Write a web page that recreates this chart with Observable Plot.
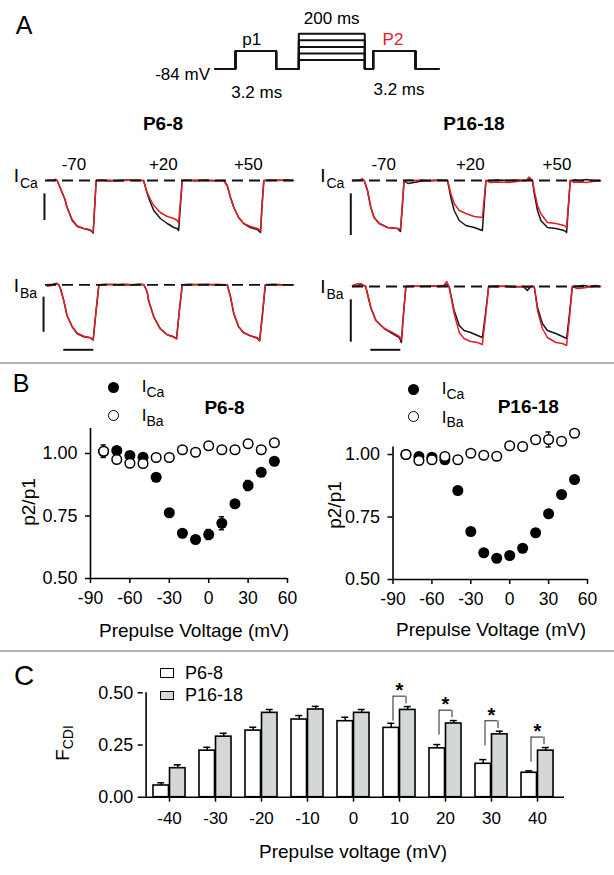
<!DOCTYPE html>
<html><head><meta charset="utf-8">
<script src="https://cdn.jsdelivr.net/npm/d3@7"></script>
<script src="https://cdn.jsdelivr.net/npm/@observablehq/plot@0.6"></script>
<style>
html,body{margin:0;padding:0;background:#fff;}
#fig{position:relative;width:614px;height:875px;overflow:hidden;font-family:"Liberation Sans",Arial,sans-serif;color:#000;background:#fff;}
#fig svg{position:absolute;left:0;top:0;background:transparent !important;overflow:visible;}
.lab{position:absolute;white-space:nowrap;line-height:1;}
</style></head><body><div id="fig"></div>
<script>
// ================= DATA =================
// Panel A – voltage protocol (schematic time units, mV)
const protoTimes = [0, 2.0, 6.07, 8.33, 14.93, 15.77, 20.0, 22.3];
const holdingMv = -84;
const testMv = -15;
const prepulseMv = [-50, -25, 0, 25, 50];

// Panel A – current traces: [time (ms), p1 (black), p2 (red)], current in arbitrary units
const sweepLabels = ["-70", "+20", "+50"];
const tracesP6Ca = [[0.7,0,0.05],[2.5,0.05,0],[3.3,0.1,0.1],[3.9,0,0],[5.0,-0.8,-0.8],[6.5,-1.9,-1.9],[7.2,-2.7,-2.7],[8.9,-4.0,-3.9],[10.6,-4.6,-4.55],[12.8,-4.8,-4.8],[14.0,-4.9,-4.85],[15.0,-5.0,-4.95],[15.9,-5.25,-5.15],[16.4,-2.6,-2.6],[16.9,0,0],[18.5,0.05,0],[21,-0.05,0.05],[24,0,-0.05],[27,0.05,0],[30,0,0.05],[32.7,0,0],[33.9,-1.3,-1.2],[35.0,-2.2,-1.9],[36.1,-3.0,-2.5],[38.3,-3.8,-3.2],[40.6,-4.3,-3.6],[42.8,-4.7,-3.8],[43.9,-4.8,-4.0],[44.4,-5.0,-4.2],[45.0,-2.5,-2.1],[45.6,0,0],[47,0.05,0],[50,-0.05,0.05],[53,0.05,0],[56,0,-0.05],[59.4,0,0],[60.6,-0.5,-0.5],[61.7,-1.7,-1.7],[62.8,-2.7,-2.7],[64.4,-3.7,-3.7],[66.1,-4.3,-4.3],[68.3,-4.7,-4.6],[70.6,-4.9,-4.8],[71.7,-5.2,-5.0],[72.2,-2.6,-2.5],[72.8,0,0],[75,0.05,0],[78,0,0.05],[80.5,0.05,0],[82.7,0,0]];
const tracesP6Ba = [[0.6,0,-0.15],[2.5,0.05,-0.05],[3.8,0.15,0.1],[4.4,0,0],[5.0,-0.4,-0.4],[6.1,-1.6,-1.6],[7.2,-3.1,-3.1],[8.9,-4.2,-4.2],[10.6,-4.9,-4.85],[12.8,-5.2,-5.15],[15.0,-5.3,-5.3],[15.9,-5.5,-5.55],[16.8,-2.8,-2.8],[17.8,0,0],[20,0.05,0],[23,0,0.05],[26,0.05,-0.05],[29,0,0],[31.5,0.05,0.05],[32.8,0,0],[33.9,-0.7,-0.7],[34.4,-1.6,-1.6],[36.1,-3.2,-3.2],[38.3,-4.4,-4.4],[40.6,-5.0,-5.0],[42.8,-5.2,-5.25],[43.7,-5.4,-5.4],[44.6,-2.7,-2.7],[45.6,0,0],[48,0.05,-0.05],[51,0,0.05],[54,0.05,0],[57,-0.05,0.05],[60.6,0,0],[61.7,-1.2,-1.2],[62.8,-2.9,-2.9],[64.4,-4.2,-4.2],[66.1,-4.8,-4.8],[68.3,-5.1,-5.1],[70.6,-5.3,-5.35],[71.4,-5.6,-5.6],[72.4,-2.8,-2.8],[73.3,0,0],[76,0.05,0],[79,0,-0.05],[82.7,0,0]];
const tracesP16Ca = [[0,0,0],[2.5,0.05,0],[3.3,0.15,0.15],[3.9,0,0],[5.0,-1.0,-1.0],[6.1,-2.7,-2.7],[7.2,-3.7,-3.7],[8.9,-4.3,-4.3],[11.7,-4.7,-4.7],[15.0,-4.8,-4.8],[16.0,-5.1,-4.85],[16.6,-2.6,-2.5],[17.2,0,0],[18.5,-0.3,0.05],[20.5,-0.2,0],[23,-0.05,0.05],[26,0,-0.05],[29,0.05,0],[31.7,0,0],[32.8,-1.7,-1.3],[33.9,-3.0,-2.3],[35.6,-4.0,-3.0],[37.8,-4.5,-3.3],[40.6,-4.7,-3.6],[43.3,-5.0,-3.7],[43.9,-2.5,-1.9],[44.5,0,0],[46,0,-0.2],[49,0.05,-0.15],[52,0,-0.2],[55,0.05,-0.1],[58,0,0],[58.9,0.1,0.35],[60,0,0],[60.6,-1.3,-1.0],[61.7,-3.0,-2.5],[62.8,-4.0,-3.3],[65.0,-4.7,-4.2],[67.8,-4.8,-4.3],[70.6,-5.0,-4.5],[71.4,-5.2,-4.7],[72.0,-2.6,-2.4],[72.6,0,0],[74,0.05,-0.2],[76,0,-0.15],[78,0.1,-0.2],[80,0,-0.1],[82.7,0,-0.05]];
const tracesP16Ba = [[0,0,0.1],[1.5,0.05,0.25],[2.8,0.2,0.3],[3.8,0.1,0.1],[4.4,0,0],[6.1,-2.1,-2.1],[7.8,-3.4,-3.4],[10.6,-4.2,-4.2],[13.3,-4.7,-4.6],[15.6,-5.1,-5.0],[16.3,-5.6,-5.3],[17.0,-2.8,-2.7],[17.8,0,0],[20,0.05,0],[23,0,0.05],[26,0.05,0],[29,0,0.1],[30.5,0.1,0.1],[31.4,0.2,0.5],[32.2,0,0],[33.9,-2.4,-2.7],[35.6,-3.9,-4.6],[37.2,-4.4,-5.2],[39.4,-4.6,-5.5],[41.7,-4.9,-5.6],[43.3,-5.1,-5.8],[44.4,-2.6,-2.9],[45.4,0,0],[48,0.05,-0.05],[51,0,0.05],[54,-0.05,0],[57,0,0],[58.3,-0.4,-0.1],[59.5,0,0],[60.6,0,0],[61.7,-2.1,-2.4],[63.3,-3.7,-4.2],[65.0,-4.4,-5.1],[67.8,-4.7,-5.6],[70.0,-5.0,-5.7],[71.4,-5.2,-5.9],[72.4,-2.6,-3.0],[73.3,0,0],[75,0.05,-0.2],[77,0.1,-0.15],[79,0,-0.05],[81,0.1,0],[82.7,0,0]];
// scale bars (ms, current units)
const scaleMs = 10;
const barP6Ca = {t: -0.35, i1: -1.33, i2: -4.0};
const barP6Ba = {t: -0.65, i1: -1.24, i2: -4.74, h: -6.5, t1: 6.1};
const barP16Ca = {t: -0.57, i1: -1.33, i2: -5.5};
const barP16Ba = {t: -0.57, i1: -1.33, i2: -5.57, h: -6.33, t1: 6.1};

// Panel B – p2/p1 vs prepulse voltage
const prepulseV = [-80,-70,-60,-50,-40,-30,-20,-10,0,10,20,30,40,50];
const p6Ca    = [1.008,1.012,0.992,0.985,0.905,0.763,0.681,0.656,0.676,0.721,0.799,0.872,0.925,0.969];
const p6CaSem = [0.012,0.010,0.010,0.010,0.010,0.010,0.012,0.012,0.020,0.026,0.015,0.020,0.012,0.010];
const p6Ba    = [1.009,0.976,0.961,0.960,0.984,0.984,1.015,1.005,1.031,1.015,1.015,1.039,1.015,1.043];
const p6BaSem = [0.025,0.010,0.010,0.010,0.008,0.008,0.010,0.008,0.010,0.010,0.010,0.012,0.010,0.010];
const p16Ca    = [1.000,0.992,0.989,0.979,0.856,0.692,0.607,0.585,0.596,0.625,0.687,0.763,0.840,0.900];
const p16CaSem = [0.008,0.008,0.008,0.008,0.010,0.010,0.010,0.010,0.010,0.012,0.010,0.010,0.010,0.010];
const p16Ba    = [1.000,0.976,0.979,0.992,0.979,1.005,0.997,0.993,1.035,1.032,1.059,1.060,1.053,1.085];
const p16BaSem = [0.008,0.008,0.008,0.010,0.008,0.008,0.008,0.008,0.010,0.010,0.012,0.030,0.012,0.010];
const bXTicks = [-90,-60,-30,0,30,60];
const bYTicks = [0.5,0.75,1.0];

// Panel C – F_CDI
const cdiV = ["-40","-30","-20","-10","0","10","20","30","40"];
const fcdiP6     = [0.056,0.223,0.319,0.372,0.364,0.332,0.234,0.160,0.117];
const fcdiP6Sem  = [0.013,0.016,0.016,0.019,0.019,0.022,0.018,0.020,0.009];
const fcdiP16    = [0.139,0.290,0.404,0.420,0.404,0.418,0.353,0.301,0.223];
const fcdiP16Sem = [0.016,0.016,0.016,0.015,0.016,0.016,0.014,0.015,0.015];
const sigV = ["10","20","30","40"];
const cYTicks = [0, 0.25, 0.5];

// ================= DRAW =================
const RED = "#e41e26";
const FONT = '"Liberation Sans", Arial, sans-serif';
const fig = document.getElementById("fig");
const W = 614, H = 875;
const baseStyle = {background: "transparent", overflow: "visible", fontFamily: FONT, fontSize: "17px", color: "#000"};
const hyphen = d => String(d);   // plain hyphen-minus, as in the original

function add(svg){ fig.appendChild(svg); }
function label(html, x, y, o = {}) {
  const d = document.createElement("div");
  d.className = "lab";
  d.innerHTML = html;
  const ax = o.anchor === "start" ? "0" : o.anchor === "end" ? "-100%" : "-50%";
  d.style.left = x + "px"; d.style.top = y + "px";
  d.style.fontSize = (o.size || 17) + "px";
  if (o.weight) d.style.fontWeight = o.weight;
  if (o.color) d.style.color = o.color;
  d.style.transform = `translate(${ax},-50%)` + (o.rotate ? ` rotate(${o.rotate}deg)` : "");
  fig.appendChild(d);
  return d;
}
function box(x, y, w, h, css) {
  const d = document.createElement("div");
  d.style.position = "absolute"; d.style.left = x + "px"; d.style.top = y + "px";
  d.style.width = w + "px"; d.style.height = h + "px"; d.style.boxSizing = "border-box";
  Object.assign(d.style, css);
  fig.appendChild(d);
}

// ---- Protocol schematic ----
const protoRows = prepulseMv.flatMap(L => {
  const lv = [holdingMv, testMv, holdingMv, L, holdingMv, testMv, holdingMv, holdingMv];
  return protoTimes.map((t, i) => ({t, v: lv[i], L}));
});
add(Plot.plot({
  width: W, height: H, marginLeft: 215, marginRight: W - 438, marginTop: 33.3, marginBottom: H - 68.5,
  style: baseStyle,
  x: {domain: [protoTimes[0], protoTimes[protoTimes.length - 1]], axis: null},
  y: {domain: [holdingMv, d3.max(prepulseMv)], axis: null},
  marks: [Plot.line(protoRows, {x: "t", y: "v", z: "L", curve: "step-after", stroke: "#111", strokeWidth: 2, strokeLinejoin: "miter"})]
}));

// ---- Current traces ----
function tracePlot(rows, x0, x1, base, bar) {
  const lo = -7, hi = 1, pxPerUnit = 10;
  const xDom = [0, 82.7];
  const marks = [
    Plot.line(rows, {x: d => d[0], y: d => d[1], stroke: "#151515", strokeWidth: 1.5}),
    Plot.line(rows, {x: d => d[0], y: d => d[2], stroke: RED, strokeWidth: 1.5}),
    Plot.ruleY([0], {x1: xDom[0], x2: xDom[1], stroke: "#111", strokeWidth: 1.8, strokeDasharray: "11,6"}),
    Plot.ruleX([bar], {x: "t", y1: "i1", y2: "i2", stroke: "#111", strokeWidth: 2})
  ];
  if (bar.h !== undefined) marks.push(Plot.ruleY([bar], {y: "h", x1: "t1", x2: d => d.t1 + scaleMs, stroke: "#111", strokeWidth: 2}));
  return Plot.plot({
    width: W, height: H, marginLeft: x0, marginRight: W - x1,
    marginTop: base - hi * pxPerUnit, marginBottom: H - (base - lo * pxPerUnit),
    style: baseStyle,
    x: {domain: xDom, axis: null}, y: {domain: [lo, hi], axis: null},
    marks
  });
}
add(tracePlot(tracesP6Ca, 45, 293, 180, barP6Ca));
add(tracePlot(tracesP6Ba, 45, 293, 284.3, barP6Ba));
add(tracePlot(tracesP16Ca, 352, 600, 180, barP16Ca));
add(tracePlot(tracesP16Ba, 352, 600, 286, barP16Ba));

// ---- Panel B ----
function ratioPlot(ml, mr, mt, mb, yTop, ca, caSem, ba, baSem) {
  const caRows = prepulseV.map((v, i) => ({v, r: ca[i], e: caSem[i]}));
  const baRows = prepulseV.map((v, i) => ({v, r: ba[i], e: baSem[i]}));
  const errMarks = rows => [
    Plot.ruleX(rows, {x: "v", y1: d => d.r - d.e, y2: d => d.r + d.e, stroke: "#000", strokeWidth: 1.4}),
    Plot.ruleY(rows, {y: d => d.r + d.e, x1: d => d.v - 2, x2: d => d.v + 2, stroke: "#000", strokeWidth: 1.4}),
    Plot.ruleY(rows, {y: d => d.r - d.e, x1: d => d.v - 2, x2: d => d.v + 2, stroke: "#000", strokeWidth: 1.4})
  ];
  return Plot.plot({
    width: W, height: H, marginLeft: ml, marginRight: mr, marginTop: mt, marginBottom: mb,
    style: baseStyle,
    x: {domain: [bXTicks[0], bXTicks[bXTicks.length - 1]], label: null},
    y: {domain: [bYTicks[0], yTop], label: null},
    marks: [
      Plot.axisX({ticks: bXTicks, tickFormat: hyphen, tickSize: 5, tickPadding: 8, fontSize: 17.5, strokeWidth: 1.5, label: null}),
      Plot.axisY({ticks: bYTicks, tickFormat: d3.format(".2f"), tickSize: 5, tickPadding: 8, fontSize: 18, strokeWidth: 1.5, label: null}),
      Plot.ruleY([bYTicks[0]], {x1: bXTicks[0], x2: bXTicks[bXTicks.length - 1], stroke: "#000", strokeWidth: 1.6}),
      Plot.ruleX([bXTicks[0]], {y1: bYTicks[0], y2: yTop, stroke: "#000", strokeWidth: 1.6}),
      ...errMarks(caRows),
      ...errMarks(baRows),
      Plot.dot(caRows, {x: "v", y: "r", r: 5.5, fill: "#000", stroke: "none"}),
      Plot.dot(baRows, {x: "v", y: "r", r: 4.8, fill: "#fff", stroke: "#000", strokeWidth: 1.5})
    ]
  });
}
add(ratioPlot(90, W - 287, 428, H - 578, 1.1, p6Ca, p6CaSem, p6Ba, p6BaSem));
add(ratioPlot(392.5, W - 587, 446.5, H - 579, 1.03, p16Ca, p16CaSem, p16Ba, p16BaSem));

// ---- Panel C ----
const cLeft = 142.7, cRight = 564, pIn = 0.295;
const step = (cRight - cLeft) / cdiV.length;
const bw = step * (1 - pIn);
const cRows = cdiV.map((c, i) => ({c, a: fcdiP6[i], ae: fcdiP6Sem[i], b: fcdiP16[i], be: fcdiP16Sem[i]}));
const sigRows = cRows.filter(d => sigV.includes(d.c)).map(d => {
  const top = d.b + d.be + 0.05;
  return {c: d.c, top, left: top - 0.12, right: top - 0.037, star: top + 0.05};
});
const capInset = (bw - 8) / 2;
const brInset = (bw - 13) / 2;
add(Plot.plot({
  width: W, height: H, marginLeft: cLeft, marginRight: W - cRight, marginTop: 692.3, marginBottom: H - 796.7,
  style: baseStyle,
  x: {type: "band", domain: cdiV, paddingInner: pIn, paddingOuter: pIn / 2, label: null},
  y: {domain: [cYTicks[0], cYTicks[cYTicks.length - 1]], label: null},
  marks: [
    Plot.axisX({tickSize: 5, tickPadding: 10, fontSize: 17, strokeWidth: 1.5, label: null}),
    Plot.axisY({ticks: cYTicks, tickFormat: d3.format(".2f"), tickSize: 5, tickPadding: 5, fontSize: 18, strokeWidth: 1.5, label: null}),
    // error bars (upward only)
    Plot.ruleX(cRows, {x: "c", y1: "a", y2: d => d.a + d.ae, dx: -bw / 4, stroke: "#000", strokeWidth: 1.5}),
    Plot.tickY(cRows, {x: "c", y: d => d.a + d.ae, dx: -bw / 4, insetLeft: capInset, insetRight: capInset, stroke: "#000", strokeWidth: 1.5}),
    Plot.ruleX(cRows, {x: "c", y1: "b", y2: d => d.b + d.be, dx: bw / 4, stroke: "#000", strokeWidth: 1.5}),
    Plot.tickY(cRows, {x: "c", y: d => d.b + d.be, dx: bw / 4, insetLeft: capInset, insetRight: capInset, stroke: "#000", strokeWidth: 1.5}),
    Plot.barY(cRows, {x: "c", y: "a", fill: "#fff", stroke: "#000", strokeWidth: 1.6, insetRight: bw / 2}),
    Plot.barY(cRows, {x: "c", y: "b", fill: "#d3d7d5", stroke: "#000", strokeWidth: 1.6, insetLeft: bw / 2}),
    // significance brackets
    Plot.ruleX(sigRows, {x: "c", y1: "left", y2: "top", dx: -6.5, stroke: "#222", strokeWidth: 1}),
    Plot.ruleX(sigRows, {x: "c", y1: "right", y2: "top", dx: 6.5, stroke: "#222", strokeWidth: 1}),
    Plot.tickY(sigRows, {x: "c", y: "top", insetLeft: brInset, insetRight: brInset, stroke: "#222", strokeWidth: 1}),
    Plot.text(sigRows, {x: "c", y: "star", text: () => "*", fontSize: 20, fontWeight: "bold", dy: 5}),
    // axis lines
    Plot.ruleY([cYTicks[0]], {stroke: "#000", strokeWidth: 1.6}),
    Plot.ruleX([cdiV[0]], {y1: cYTicks[0], y2: cYTicks[cYTicks.length - 1], dx: -step / 2, stroke: "#000", strokeWidth: 1.6})
  ]
}));

// ================= TEXT / DECORATION =================
box(0, 362, W, 2, {background: "#b4b4b4"});
box(0, 650, W, 2, {background: "#b4b4b4"});

// Panel A
label("A", 24, 25, {size: 25});
label("-84 mV", 210, 74, {anchor: "end"});
label("p1", 251.7, 39);
label("200 ms", 331.7, 18.3);
label("P2", 393, 39, {color: RED});
label("3.2 ms", 256.7, 91.7);
label("3.2 ms", 399, 89.3);
label("P6-8", 163, 123, {size: 19, weight: "bold"});
label("P16-18", 474, 123, {size: 19, weight: "bold"});
[74, 163.3, 248.3].forEach((x, i) => label(sweepLabels[i], x, 164));
[383.7, 470.3, 557].forEach((x, i) => label(sweepLabels[i], x, 164));
function ionLabel(x, y, ion) {
  label("I", x, y, {size: 19});
  label(ion, x + 3.5, y + 8, {size: 14, anchor: "start"});
}
ionLabel(16.5, 175, "Ca"); ionLabel(323, 175, "Ca");
ionLabel(16.5, 285, "Ba"); ionLabel(323, 286, "Ba");

// Panel B
label("B", 21, 383, {size: 25});
function bLegend(cx, y1, y2) {
  box(cx - 5.5, y1 - 5.5, 11, 11, {background: "#000", borderRadius: "50%"});
  box(cx - 5.5, y2 - 5.5, 11, 11, {background: "#fff", border: "1.5px solid #000", borderRadius: "50%"});
  label("I", cx + 31, y1 - 1, {size: 17});
  label("Ca", cx + 33.5, y1 + 5, {size: 14, anchor: "start"});
  label("I", cx + 31, y2, {size: 17});
  label("Ba", cx + 33.5, y2 + 5.5, {size: 14, anchor: "start"});
}
bLegend(113, 387, 415);
bLegend(413, 389, 416.7);
label("P6-8", 224.5, 406.7, {size: 19, weight: "bold"});
label("P16-18", 528.3, 406.3, {size: 19, weight: "bold"});
label("p2/p1", 28, 502, {size: 19, rotate: -90});
label("p2/p1", 333.5, 505, {size: 19, rotate: -90});
label("Prepulse Voltage (mV)", 194, 630, {size: 19});
label("Prepulse Voltage (mV)", 491, 628.5, {size: 19});

// Panel C
label("C", 24, 676, {size: 28});
box(160, 668, 13.5, 9.5, {background: "#fff", border: "1.5px solid #000"});
box(160, 690.5, 13.5, 9.5, {background: "#d3d7d5", border: "1.5px solid #000"});
label("P6-8", 185, 672.7, {size: 18, anchor: "start"});
label("P16-18", 185, 695, {size: 18, anchor: "start"});
label('F<span style="font-size:14px;position:relative;top:0.3em">CDI</span>', 62, 743, {size: 19, rotate: -90});
label("Prepulse voltage (mV)", 353, 851, {size: 19});
</script></body></html>
